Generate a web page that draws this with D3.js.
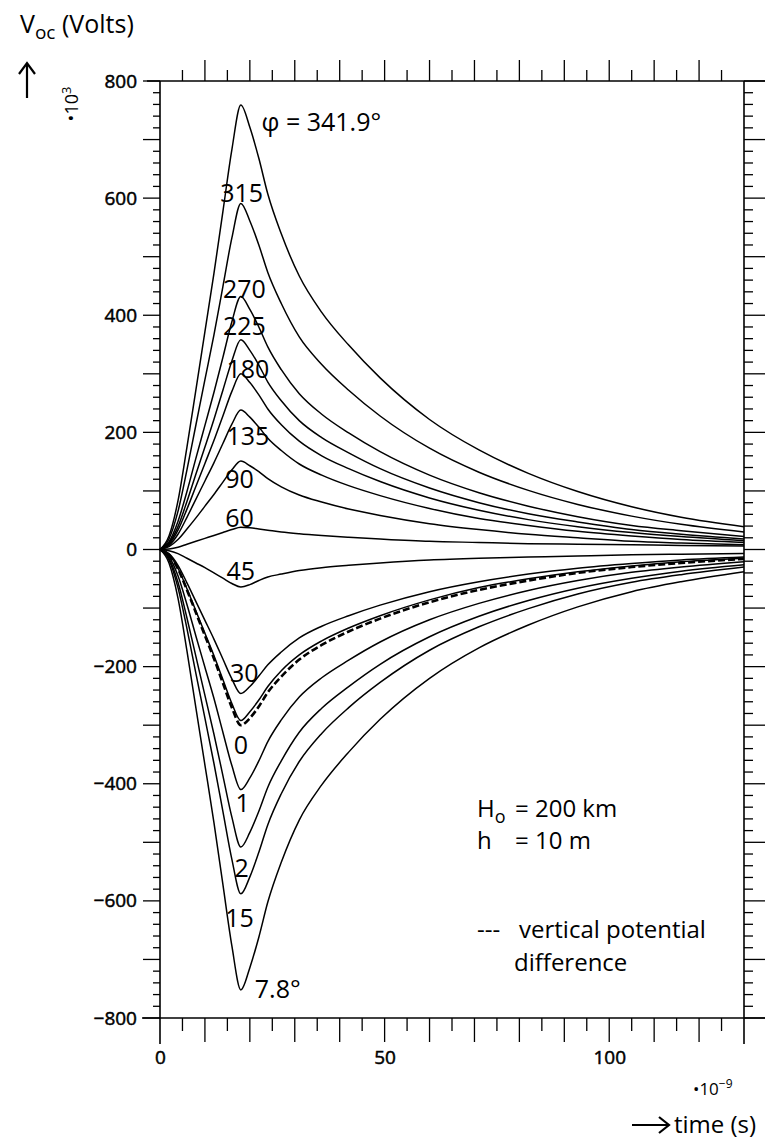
<!DOCTYPE html>
<html>
<head>
<meta charset="utf-8">
<script src="https://cdn.jsdelivr.net/npm/d3@7"></script>
<style>
  body { margin: 0; background: #fff; }
  svg { display: block; }
  text { font-family: "Open Sans", sans-serif; fill: #000; }
</style>
</head>
<body>
<svg id="chart" width="765" height="1148"></svg>
<script>
/* DATA (time in ns, Voc in kV) */
const times = [0, 2, 4, 6, 8, 10, 12, 14, 16, 18, 20, 22, 24, 27, 31, 36, 42, 49, 60, 71, 82, 93, 105, 116, 130];

const phi341_9 = [0, 23, 83, 175, 273, 372, 471, 577, 683, 759, 721, 668, 607, 539, 467, 405, 349, 293, 222, 170, 130, 99, 73, 55, 39];
const phi315   = [0, 18, 65, 136, 213, 290, 366, 449, 532, 591, 561, 520, 473, 420, 363, 316, 272, 228, 173, 132, 101, 77, 57, 43, 30];
const phi270   = [0, 13, 48, 99, 156, 212, 268, 328, 389, 432, 410, 380, 346, 307, 266, 231, 199, 167, 127, 97, 74, 56, 41, 32, 22];
const phi225   = [0, 11, 39, 82, 129, 175, 222, 272, 322, 358, 340, 315, 286, 254, 220, 191, 165, 138, 105, 80, 61, 47, 34, 26, 18];
const phi180   = [0, 9, 33, 69, 108, 147, 186, 228, 270, 300, 285, 264, 240, 213, 185, 160, 138, 116, 88, 67, 51, 39, 29, 22, 15];
const phi135   = [0, 7, 26, 55, 86, 117, 148, 181, 214, 238, 226, 209, 190, 169, 146, 127, 109, 92, 70, 53, 41, 31, 23, 17, 12];
const phi90    = [0, 5, 17, 35, 54, 74, 94, 115, 136, 151, 143, 133, 121, 107, 93, 81, 69, 58, 44, 34, 26, 20, 14, 11, 8];
const phi60    = [0, 1, 4, 9, 14, 19, 24, 29, 34, 38, 37, 35, 33, 30, 27, 24, 21, 18, 14, 12, 10, 9, 8, 7, 6];
const phi45    = [0, -2, -7, -15, -23, -31, -40, -49, -58, -64, -60, -53, -47, -42, -36, -31, -27, -23, -18, -15, -13, -11, -9, -8, -7];
const phi30    = [0, -7, -27, -57, -89, -121, -153, -187, -221, -246, -234, -216, -197, -175, -151, -131, -113, -95, -72, -55, -42, -32, -24, -18, -13];
const phi0     = [0, -9, -32, -67, -105, -143, -181, -222, -263, -292, -277, -257, -234, -207, -180, -156, -134, -113, -86, -65, -50, -38, -28, -21, -15];
const vertical = [0, -9, -33, -69, -108, -147, -186, -228, -270, -300, -288, -268, -244, -217, -188, -163, -140, -118, -90, -69, -53, -40, -30, -23, -16];
const phi1     = [0, -12, -45, -94, -148, -201, -254, -312, -369, -410, -390, -361, -328, -291, -252, -219, -189, -158, -120, -92, -70, -53, -39, -30, -21];
const phi2     = [0, -15, -56, -117, -183, -249, -315, -386, -457, -508, -483, -447, -406, -361, -312, -271, -234, -196, -149, -114, -87, -66, -49, -37, -26];
const phi15    = [0, -18, -65, -135, -212, -288, -365, -447, -529, -588, -559, -517, -470, -417, -362, -314, -270, -227, -172, -132, -101, -76, -56, -43, -30];
const phi7_8   = [0, -23, -83, -173, -271, -368, -466, -572, -677, -752, -714, -662, -602, -534, -462, -402, -346, -290, -220, -168, -129, -98, -72, -55, -38];

const yTickLabels = [800, 600, 400, 200, 0, -200, -400, -600, -800];
const xTickLabels = [0, 50, 100];

// curve name labels, in data coordinates (time, volts)
const curveLabels = [
  { text: "φ = 341.9°", t: 22.6, v: 715 },
  { text: "315", t: 13.4, v: 594 },
  { text: "270", t: 14.0, v: 429 },
  { text: "225", t: 14.0, v: 366 },
  { text: "180", t: 14.8, v: 292 },
  { text: "135", t: 14.8, v: 178 },
  { text: "90", t: 14.5, v: 105 },
  { text: "60", t: 14.5, v: 39 },
  { text: "45", t: 14.8, v: -52 },
  { text: "30", t: 15.6, v: -226 },
  { text: "0", t: 16.4, v: -350 },
  { text: "1", t: 16.8, v: -448 },
  { text: "2", t: 16.6, v: -559 },
  { text: "15", t: 14.5, v: -644 },
  { text: "7.8°", t: 21.1, v: -766 }
];

/* CONSTANTS */
const svg = d3.select("#chart");
const x = d3.scaleLinear().domain([0, 130]).range([160, 744]);
const y = d3.scaleLinear().domain([-800, 800]).range([1018, 81]);
const tickFont = "Liberation Sans, Arial, sans-serif";

const solidSeries = [phi341_9, phi315, phi270, phi225, phi180, phi135, phi90, phi60,
  phi45, phi30, phi0, phi1, phi2, phi15, phi7_8];

const line = d3.line()
  .x((d, i) => x(times[i]))
  .y(d => y(d))
  .curve(d3.curveMonotoneX);

/////////////
/// FRAME ///
/////////////
const frame = svg.append("g").attr("stroke", "#000").attr("stroke-width", 1.6).attr("fill", "none");

// top and bottom lines run to the right edge
frame.append("line").attr("x1", 147).attr("x2", 765).attr("y1", y(800)).attr("y2", y(800));
frame.append("line").attr("x1", 142).attr("x2", 765).attr("y1", y(-800)).attr("y2", y(-800));
// left / right
frame.append("line").attr("x1", x(0)).attr("x2", x(0)).attr("y1", y(800)).attr("y2", y(-800) + 26);
frame.append("line").attr("x1", x(130)).attr("x2", x(130)).attr("y1", y(800)).attr("y2", y(-800) + 26);

// left minor ticks (every 20), longer at the hundreds
const yMinor = d3.range(-800, 801, 20);
frame.selectAll(".lt").data(yMinor).join("line")
  .attr("x1", d => x(0) - (d % 100 === 0 ? 17 : 7))
  .attr("x2", x(0))
  .attr("y1", d => y(d)).attr("y2", d => y(d))
  .attr("stroke-width", 1.3);

// right ticks pointing outward
frame.selectAll(".rt").data(yMinor).join("line")
  .attr("x1", x(130))
  .attr("x2", d => x(130) + (d % 100 === 0 ? 21 : 9))
  .attr("y1", d => y(d)).attr("y2", d => y(d))
  .attr("stroke-width", 1.3);

// top ticks pointing up
const xTop = d3.range(5, 126, 5);
frame.selectAll(".tt").data(xTop).join("line")
  .attr("x1", d => x(d)).attr("x2", d => x(d))
  .attr("y1", y(800))
  .attr("y2", d => y(800) - (d % 10 === 0 ? 21 : 11))
  .attr("stroke-width", 1.3);

// bottom ticks pointing down
const xBottom = d3.range(5, 130, 5);
frame.selectAll(".bt").data(xBottom).join("line")
  .attr("x1", d => x(d)).attr("x2", d => x(d))
  .attr("y1", y(-800))
  .attr("y2", d => y(-800) + (d % 10 === 0 ? 24 : 13))
  .attr("stroke-width", 1.3);

// tick labels through d3 axes
const yAxis = svg.append("g")
  .attr("transform", `translate(${x(0)},0)`)
  .call(d3.axisLeft(y).tickValues(yTickLabels).tickSize(0).tickPadding(23));
yAxis.select(".domain").remove();
yAxis.selectAll("text").attr("font-size", 19).attr("font-family", tickFont)
  .attr("stroke", "#000").attr("stroke-width", 0.5);

const xAxis = svg.append("g")
  .attr("transform", `translate(0,${y(-800)})`)
  .call(d3.axisBottom(x).tickValues(xTickLabels).tickSize(0).tickPadding(33));
xAxis.select(".domain").remove();
xAxis.selectAll("text").attr("font-size", 19).attr("font-family", tickFont)
  .attr("stroke", "#000").attr("stroke-width", 0.5);

//////////////
/// CURVES ///
//////////////
svg.append("g").selectAll("path").data(solidSeries).join("path")
  .attr("d", line)
  .attr("fill", "none")
  .attr("stroke", "#000")
  .attr("stroke-width", 1.5);

svg.append("path").datum(vertical)
  .attr("d", line)
  .attr("fill", "none")
  .attr("stroke", "#000")
  .attr("stroke-width", 2.6)
  .attr("stroke-dasharray", "7,3");

svg.append("g").selectAll("text").data(curveLabels).join("text")
  .attr("x", d => x(d.t))
  .attr("y", d => y(d.v))
  .attr("font-size", 25)
  .text(d => d.text);

////////////////////
/// ANNOTATIONS ///
///////////////////
// y title
const yt = svg.append("text").attr("x", 20).attr("y", 33).attr("font-size", 25);
yt.append("tspan").text("V");
yt.append("tspan").attr("dy", 6).attr("font-size", 19).text("oc");
yt.append("tspan").attr("dy", -6).text(" (Volts)");

svg.append("path").attr("d", "M27,98 V64 M19,74 L27,63 L35,74")
  .attr("stroke", "#000").attr("stroke-width", 2.2).attr("fill", "none");

const ym = svg.append("text").attr("transform", "translate(78,104) rotate(-90)")
  .attr("text-anchor", "middle").attr("font-size", 18)
  .attr("font-family", tickFont);
ym.append("tspan").text("•10");
ym.append("tspan").attr("dy", -7).attr("font-size", 13).text("3");

// x multiplier and title
const xm = svg.append("text").attr("x", 693).attr("y", 1095).attr("font-size", 17)
  .attr("font-family", tickFont);
xm.append("tspan").text("•10");
xm.append("tspan").attr("dy", -7).attr("font-size", 12).text("−9");

svg.append("path").attr("d", "M632,1125 H668 M659,1117 L669,1125 L659,1133")
  .attr("stroke", "#000").attr("stroke-width", 2.2).attr("fill", "none");
svg.append("text").attr("x", 674).attr("y", 1133).attr("font-size", 24).text("time (s)");

// parameters box
const h1 = svg.append("text").attr("x", 477).attr("y", 817).attr("font-size", 24);
h1.append("tspan").text("H");
h1.append("tspan").attr("dy", 6).attr("font-size", 18).text("o");
h1.append("tspan").attr("dy", -6).attr("x", 515).text("= 200 km");

const h2 = svg.append("text").attr("x", 477).attr("y", 849).attr("font-size", 24);
h2.append("tspan").text("h");
h2.append("tspan").attr("x", 515).text("= 10 m");

svg.append("text").attr("x", 477).attr("y", 938).attr("font-size", 24).text("---");
svg.append("text").attr("x", 519).attr("y", 938).attr("font-size", 24).text("vertical potential");
svg.append("text").attr("x", 514).attr("y", 971).attr("font-size", 24).text("difference");
</script>
</body>
</html>
